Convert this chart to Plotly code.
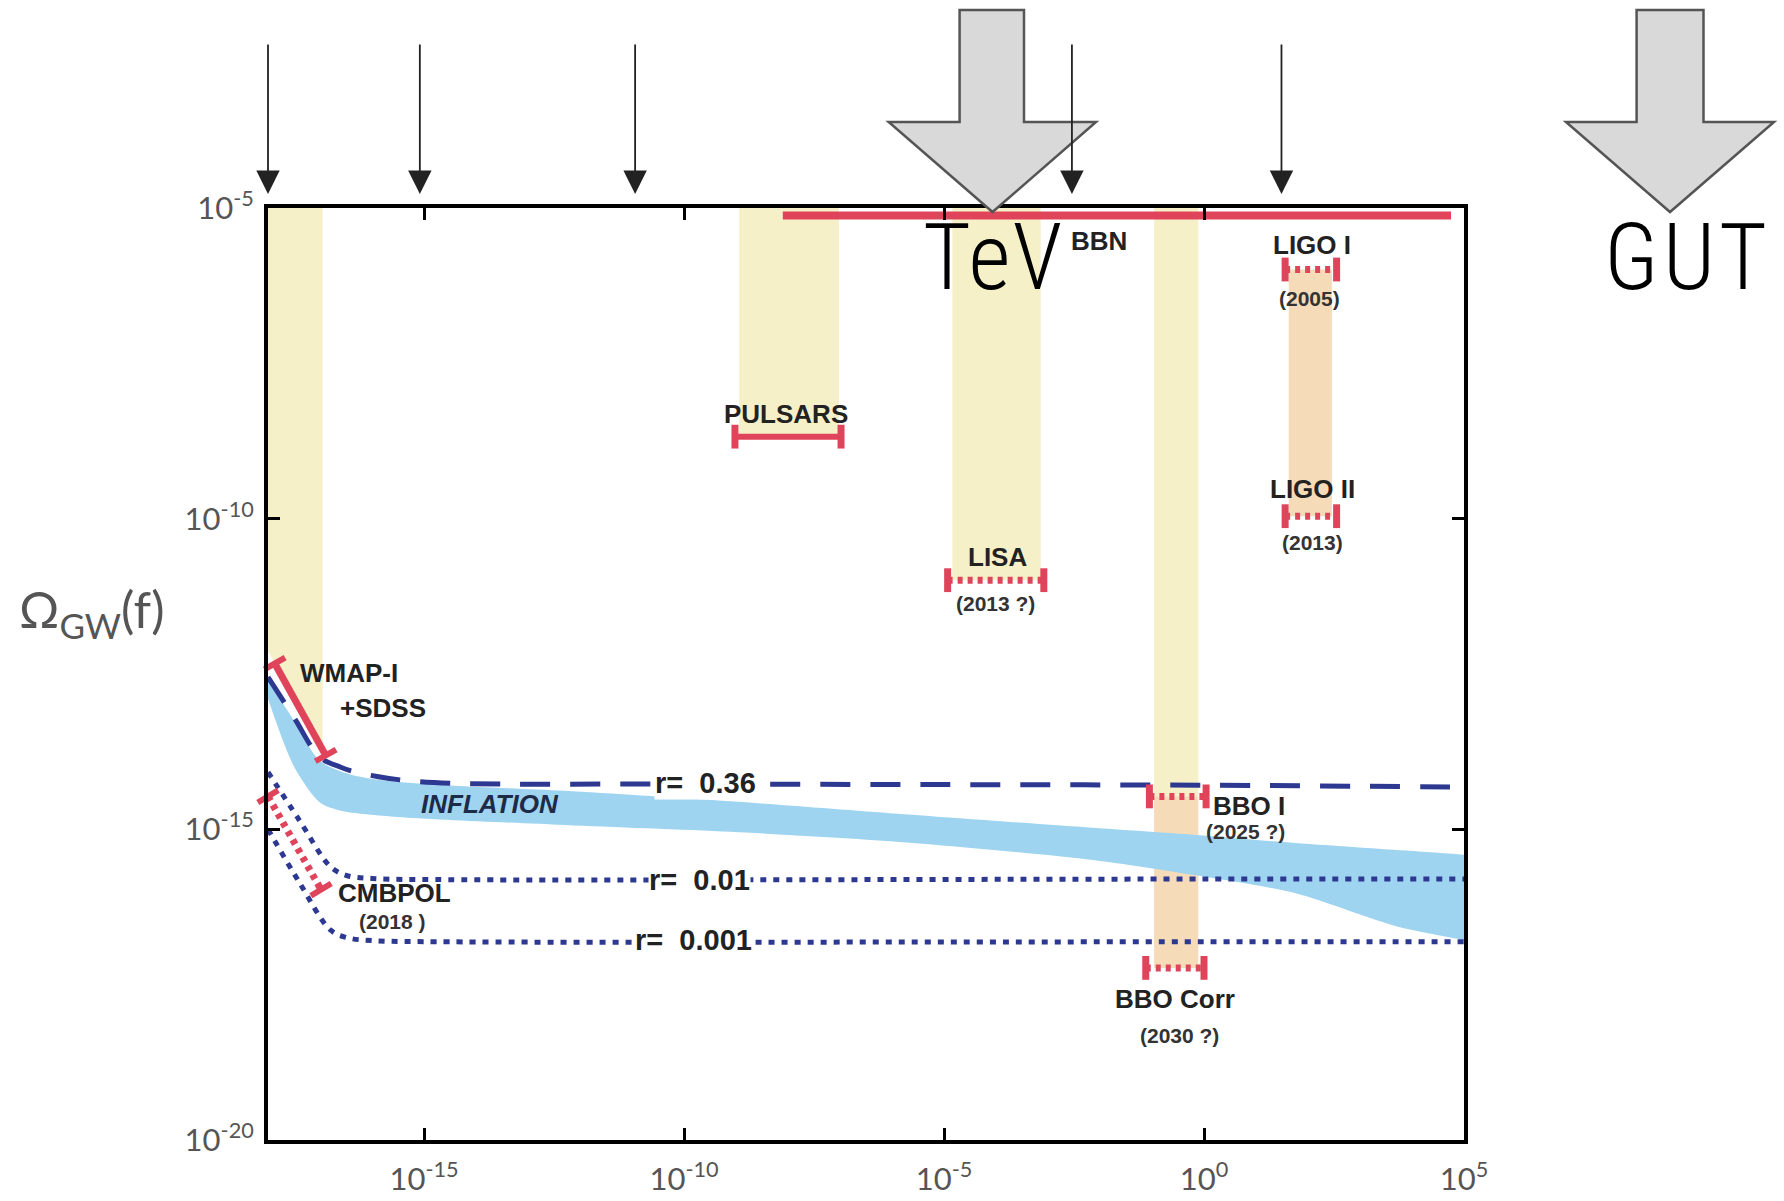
import numpy as np
import plotly.graph_objects as go

# ---------------- data (log10 values) ----------------
X_RANGE = [-18, 5]          # log10 f
Y_RANGE = [-20, -5]         # log10 Omega_GW
x_tick_exp = [-15, -10, -5, 0, 5]
y_tick_exp = [-20, -15, -10, -5]

# yellow (current / planned) frequency windows
yel_names = ["PULSARS", "LISA", "BBO"]
yel_x0 = [-8.94, -4.84, -0.96]
yel_x1 = [-7.02, -3.14, -0.11]
yel_top = [-5.0, -5.0, -5.0]
yel_bot = [-8.68, -10.99, -14.47]

# peach windows
pch_names = ["BBO Corr", "LIGO"]
pch_x0 = [-0.96, 1.63]
pch_x1 = [-0.11, 2.46]
pch_top = [-14.47, -5.99]
pch_bot = [-17.23, -9.96]

# CMB window (bounded below by WMAP limit)
cmb_band_x = [-18.0, -16.95, -16.95, -17.87, -18.0]
cmb_band_y = [-5.0, -5.0, -13.72, -12.33, -12.13]

# horizontal sensitivity limits
sens_names = ["BBN", "PULSARS", "LISA", "LIGO I", "LIGO II", "BBO I", "BBO Corr"]
sens_x0 = [-8.1, -9.02, -4.93, 1.56, 1.56, -1.05, -1.12]
sens_x1 = [4.75, -6.98, -3.08, 2.55, 2.55, 0.04, 0.0]
sens_lvl = [-5.12, -8.68, -10.99, -5.99, -9.96, -14.47, -17.23]
sens_dotted = [False, False, True, True, True, True, True]
sens_caps = [False, True, True, True, True, True, True]

# CMB limits (diagonal)
wmap_x = [-17.87, -16.89]
wmap_y = [-12.33, -13.81]
cmbpol_x = [-18.0, -16.98]
cmbpol_y = [-14.47, -15.97]

# inflation predictions
r036_x = [-18.0, -17.5, -17.0, -16.6, -16.35, -15.9, -15.39, -14.43, -10.0, -5.0, 0.0, 5.0]
r036_y = [-12.55, -13.2, -13.84, -14.0, -14.07, -14.15, -14.21, -14.26, -14.27, -14.28, -14.29, -14.32]
r001_x = [-18.0, -17.4, -16.8, -16.5, -16.0, -14.5, 0.0, 5.0]
r001_y = [-14.08, -14.85, -15.6, -15.74, -15.79, -15.81, -15.8, -15.8]
r0001_x = [-18.0, -17.4, -16.8, -16.5, -16.0, -14.5, 0.0, 5.0]
r0001_y = [-15.0, -15.85, -16.62, -16.74, -16.79, -16.81, -16.81, -16.81]

infl_up_x = [-18.0, -17.5, -17.0, -16.4, -15.47, -14.43, -12.3, -9.1, -5.9, -2.07, -0.16, 1.76, 3.66, 5.0]
infl_up_y = [-12.6, -13.25, -13.9, -14.12, -14.24, -14.3, -14.38, -14.55, -14.75, -14.98, -15.09, -15.22, -15.33, -15.41]
infl_lo_x = [-18.0, -17.5, -17.0, -16.6, -15.5, -12.3, -9.1, -5.9, -2.07, -0.16, 1.76, 3.66, 5.0]
infl_lo_y = [-12.9, -13.99, -14.57, -14.70, -14.80, -14.93, -15.04, -15.2, -15.5, -15.74, -16.03, -16.55, -16.78]

# energy-scale arrows on top (log10 f)
arrow_x = [-18.0, -15.08, -10.94, -2.54, 1.49]

# text labels
lab_text = ["BBN", "LIGO I", "PULSARS", "LIGO II", "LISA", "WMAP-I", "+SDSS",
            "BBO I", "CMBPOL", "BBO Corr"]
lab_x = [-2.01, 2.07, -8.04, 2.09, -3.97, -17.43, -16.65, 0.13, -16.69, -0.55]
lab_y = [-5.53, -5.59, -8.31, -9.52, -10.62, -12.49, -13.04, -14.62, -16.03, -17.73]
lab_anchor = ["center", "center", "center", "center", "center", "left", "left",
              "left", "left", "center"]
yr_text = ["(2005)", "(2013)", "(2013 ?)", "(2025 ?)", "(2018 )", "(2030 ?)"]
yr_x = [2.02, 2.09, -4.01, 0.0, -15.60, -0.48]
yr_y = [-6.45, -10.38, -11.37, -15.04, -16.48, -18.32]
yr_anchor = ["center", "center", "center", "left", "center", "center"]
r_text = ["r=&nbsp; 0.36", "r=&nbsp; 0.01", "r=&nbsp; 0.001"]
r_x = [-9.59, -9.70, -9.81]
r_y = [-14.25, -15.81, -16.78]

# ---------------- style ----------------
RED = "#e0445a"
NAVY = "#2d3890"
YEL = "#f6f0c8"
PEACH = "#f6dbb9"
SKY = "#9fd4f0"
LABEL_FONT = "Liberation Sans, Arial, sans-serif"
TICK_FONT = "Lato, Open Sans, sans-serif"
BIG_FONT = "Liberation Sans Narrow, Roboto Condensed, Roboto, sans-serif"

W, H = 1784, 1201
ML, MR, MT, MB = 268, 320, 208, 61
PW, PH = W - ML - MR, H - MT - MB


def P(v):
    return np.power(10.0, np.asarray(v, dtype=float))


fig = go.Figure()

# bands
fig.add_trace(go.Scatter(x=P(cmb_band_x), y=P(cmb_band_y), fill="toself", fillcolor=YEL,
                         mode="none", hoverinfo="skip"))
for i in range(len(yel_names)):
    bx = [yel_x0[i], yel_x1[i], yel_x1[i], yel_x0[i], yel_x0[i]]
    by = [yel_top[i], yel_top[i], yel_bot[i], yel_bot[i], yel_top[i]]
    fig.add_trace(go.Scatter(x=P(bx), y=P(by), fill="toself", fillcolor=YEL, mode="none",
                             name=yel_names[i], hoverinfo="skip"))
for i in range(len(pch_names)):
    bx = [pch_x0[i], pch_x1[i], pch_x1[i], pch_x0[i], pch_x0[i]]
    by = [pch_top[i], pch_top[i], pch_bot[i], pch_bot[i], pch_top[i]]
    fig.add_trace(go.Scatter(x=P(bx), y=P(by), fill="toself", fillcolor=PEACH, mode="none",
                             name=pch_names[i], hoverinfo="skip"))

# inflation band (lower edge, then upper edge filled to it)
fig.add_trace(go.Scatter(x=P(infl_lo_x), y=P(infl_lo_y), mode="lines",
                         line=dict(width=0, color=SKY, shape="spline", smoothing=0.8),
                         hoverinfo="skip"))
fig.add_trace(go.Scatter(x=P(infl_up_x), y=P(infl_up_y), mode="lines", fill="tonexty",
                         fillcolor=SKY,
                         line=dict(width=0, color=SKY, shape="spline", smoothing=0.8),
                         name="INFLATION"))

# r curves
fig.add_trace(go.Scatter(x=P(r036_x), y=P(r036_y), mode="lines", line_shape="spline",
                         line=dict(color=NAVY, width=5, dash="30px,20px")))
fig.add_trace(go.Scatter(x=P(r001_x), y=P(r001_y), mode="lines", line_shape="spline",
                         line=dict(color=NAVY, width=5, dash="6px,7px")))
fig.add_trace(go.Scatter(x=P(r0001_x), y=P(r0001_y), mode="lines", line_shape="spline",
                         line=dict(color=NAVY, width=5, dash="6px,7px")))

# horizontal sensitivities
for i in range(len(sens_names)):
    fig.add_trace(go.Scatter(
        x=P([sens_x0[i], sens_x1[i]]), y=P([sens_lvl[i], sens_lvl[i]]),
        mode="lines+markers" if sens_caps[i] else "lines",
        line=dict(color=RED, width=(8 if i == 0 else 6) if not sens_dotted[i] else 7,
                  dash="5px,5px" if sens_dotted[i] else "solid"),
        marker=dict(symbol="line-ns", size=17, line=dict(width=7, color=RED)),
        cliponaxis=False, name=sens_names[i]))

# WMAP and CMBPOL
fig.add_trace(go.Scatter(x=P(wmap_x), y=P(wmap_y), mode="lines+markers",
                         line=dict(color=RED, width=7),
                         marker=dict(symbol="line-ew", size=17, angle=-29.5,
                                     line=dict(width=6, color=RED)),
                         cliponaxis=False, name="WMAP-I+SDSS"))
fig.add_trace(go.Scatter(x=P(cmbpol_x), y=P(cmbpol_y), mode="lines+markers",
                         line=dict(color=RED, width=7, dash="5px,5px"),
                         marker=dict(symbol="line-ew", size=17, angle=-31,
                                     line=dict(width=6, color=RED)),
                         cliponaxis=False, name="CMBPOL"))

annotations = []
for t, x, y, a in zip(lab_text, lab_x, lab_y, lab_anchor):
    annotations.append(dict(x=x, y=y, xref="x", yref="y", text="<b>%s</b>" % t, showarrow=False,
                            xanchor=a, yanchor="middle",
                            font=dict(family=LABEL_FONT, size=26, color="#222222")))
for t, x, y, a in zip(yr_text, yr_x, yr_y, yr_anchor):
    annotations.append(dict(x=x, y=y, xref="x", yref="y", text="<b>%s</b>" % t, showarrow=False,
                            xanchor=a, yanchor="middle",
                            font=dict(family=LABEL_FONT, size=21, color="#333333")))
for t, x, y in zip(r_text, r_x, r_y):
    annotations.append(dict(x=x, y=y, xref="x", yref="y", text="<b>%s</b>" % t, showarrow=False,
                            xanchor="center", yanchor="middle", bgcolor="white", borderpad=0,
                            font=dict(family=LABEL_FONT, size=29, color="#222222")))
annotations.append(dict(x=-13.73, y=-14.6, xref="x", yref="y", text="<b><i>INFLATION</i></b>",
                        showarrow=False, font=dict(family=LABEL_FONT, size=26, color="#1d2a48")))

# thin arrows on top
tip_y = (H - MB - 194) / PH
for ax_ in arrow_x:
    annotations.append(dict(x=ax_, y=tip_y, xref="x", yref="paper", text="", showarrow=True,
                            ax=0, ay=-151, arrowhead=2, arrowsize=2.6, arrowwidth=1.8,
                            arrowcolor="#222222", standoff=0))

# axis title
annotations.append(dict(x=(17 - ML) / PW, y=(H - MB - 612) / PH, xref="paper", yref="paper",
                        xanchor="left", yanchor="middle", showarrow=False,
                        text="Ω<sub>GW</sub>(f)",
                        font=dict(family=TICK_FONT, size=50, color="#555555")))


# big energy-scale arrows (TeV, GUT)
def px(xp):
    return (xp - ML) / PW


def py(yp):
    return (H - MB - yp) / PH


def big_arrow(cx, sx0, sx1, hx0, hx1, top, neck, tip):
    pts = [(sx0, top), (sx1, top), (sx1, neck), (hx1, neck), (cx, tip), (hx0, neck), (sx0, neck)]
    return "M " + " L ".join("%.5f,%.5f" % (px(a), py(b)) for a, b in pts) + " Z"


shapes = [
    dict(type="path", xref="paper", yref="paper", layer="above",
         path=big_arrow(992.5, 959.6, 1024, 888.7, 1096, 10, 122, 212),
         fillcolor="#d9d9d9", line=dict(color="#555555", width=2.5)),
    dict(type="path", xref="paper", yref="paper", layer="above",
         path=big_arrow(1670, 1636.6, 1703.5, 1566, 1774, 10, 122, 212),
         fillcolor="#d9d9d9", line=dict(color="#555555", width=2.5)),
]
annotations.append(dict(x=px(993), y=py(257), xref="paper", yref="paper",
                        text="<span style='letter-spacing:2px'>TeV</span>",
                        showarrow=False, xanchor="center", yanchor="middle",
                        font=dict(family=BIG_FONT, size=92, color="black", weight=300)))
annotations.append(dict(x=px(1687), y=py(257), xref="paper", yref="paper",
                        text="<span style='letter-spacing:4px'>GUT</span>",
                        showarrow=False, xanchor="center", yanchor="middle",
                        font=dict(family=BIG_FONT, size=92, color="black", weight=300)))

axis_common = dict(type="log", showgrid=False, zeroline=False, showline=True, linecolor="black",
                   linewidth=4, mirror="ticks", ticks="inside", ticklen=12, tickwidth=3,
                   tickcolor="black", automargin=False,
                   tickfont=dict(family=TICK_FONT, size=31, color="#555555"))

fig.update_layout(
    width=W, height=H,
    margin=dict(l=ML, r=MR, t=MT, b=MB, pad=0, autoexpand=False),
    paper_bgcolor="white", plot_bgcolor="white",
    showlegend=False,
    xaxis=dict(range=X_RANGE, tickvals=list(P(x_tick_exp)),
               ticktext=["10<sup>%d</sup>" % e for e in x_tick_exp],
               ticklabelstandoff=9, **axis_common),
    yaxis=dict(range=Y_RANGE, tickvals=list(P(y_tick_exp)),
               ticktext=["10<sup>%d</sup>" % e for e in y_tick_exp],
               ticklabelstandoff=4, **axis_common),
    annotations=annotations,
    shapes=shapes,
)

fig.write_html("out.html")
